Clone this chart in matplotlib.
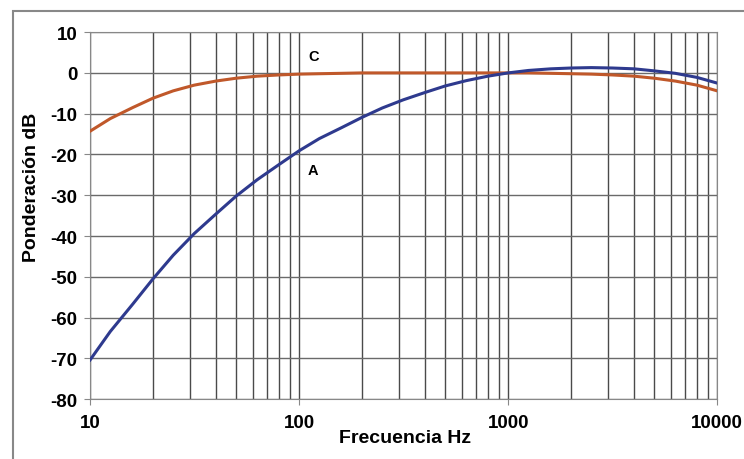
import matplotlib.pyplot as plt
from matplotlib.patches import Rectangle
from matplotlib.ticker import FixedLocator, NullFormatter

plt.rcParams['font.family'] = ['Liberation Sans', 'DejaVu Sans']
plt.rcParams['axes.unicode_minus'] = False

# frecuencias (Hz) y ponderaciones (dB)
freq = [10, 12.5, 16, 20, 25, 31.5, 40, 50, 63, 80, 100, 125, 160, 200, 250, 315,
        400, 500, 630, 800, 1000, 1250, 1600, 2000, 2500, 3150, 4000, 5000, 6300,
        8000, 10000]
pond_a = [-70.4, -63.4, -56.7, -50.5, -44.7, -39.4, -34.6, -30.2, -26.2, -22.5,
          -19.1, -16.1, -13.4, -10.9, -8.6, -6.6, -4.8, -3.2, -1.9, -0.8, 0.0,
          0.6, 1.0, 1.2, 1.3, 1.2, 1.0, 0.5, -0.1, -1.1, -2.5]
pond_c = [-14.3, -11.2, -8.5, -6.2, -4.4, -3.0, -2.0, -1.3, -0.8, -0.5, -0.3,
          -0.2, -0.1, 0.0, 0.0, 0.0, 0.0, 0.0, 0.0, 0.0, 0.0, 0.0, -0.1, -0.2,
          -0.3, -0.5, -0.8, -1.3, -2.0, -3.0, -4.4]
yticks = [10, 0, -10, -20, -30, -40, -50, -60, -70, -80]
xticks = [10, 100, 1000, 10000]

fig = plt.figure(figsize=(7.44, 4.6), dpi=100)
ax = fig.add_axes([0.121, 0.130, 0.843, 0.798])

# marco gris alrededor de la figura
fig.patches.append(Rectangle((0.018, -0.01), 0.99, 0.984, transform=fig.transFigure,
                             fill=False, edgecolor='#888888', linewidth=1.5))

ax.plot(freq, pond_c, color='#C0582A', linewidth=2.2, zorder=3)
ax.plot(freq, pond_a, color='#2E3A8E', linewidth=2.2, zorder=3)

ax.set_xscale('log')
ax.set_xlim(10, 10000)
ax.set_ylim(-80, 10)
ax.set_xticks(xticks)
ax.set_xticklabels([str(x) for x in xticks])
ax.xaxis.set_minor_locator(FixedLocator([m * d for d in (10, 100, 1000) for m in range(2, 10)]))
ax.xaxis.set_minor_formatter(NullFormatter())
ax.set_yticks(yticks)

ax.grid(True, which='major', axis='y', color='#6a6a6a', linewidth=1)
ax.grid(True, which='both', axis='x', color='#4a4a4a', linewidth=1)
ax.tick_params(axis='both', which='major', labelsize=13.5, length=4, color='#888888',
               pad=5)
ax.tick_params(axis='x', which='minor', length=0)
ax.tick_params(axis='x', pad=7)
for lab in ax.get_xticklabels() + ax.get_yticklabels():
    lab.set_fontweight('bold')
for s in ax.spines.values():
    s.set_color('#888888')

ax.text(117, 4.1, 'C', fontsize=10.5, fontweight='bold', ha='center', va='center')
ax.text(117, -23.8, 'A', fontsize=10.5, fontweight='bold', ha='center', va='center')

ax.set_xlabel('Frecuencia Hz', fontsize=14, fontweight='bold')
ax.xaxis.set_label_coords(0.502, -0.082)
ax.set_ylabel('Ponderación dB', fontsize=14, fontweight='bold')
ax.yaxis.set_label_coords(-0.080, 0.58)

fig.savefig('out.png', dpi=100)
